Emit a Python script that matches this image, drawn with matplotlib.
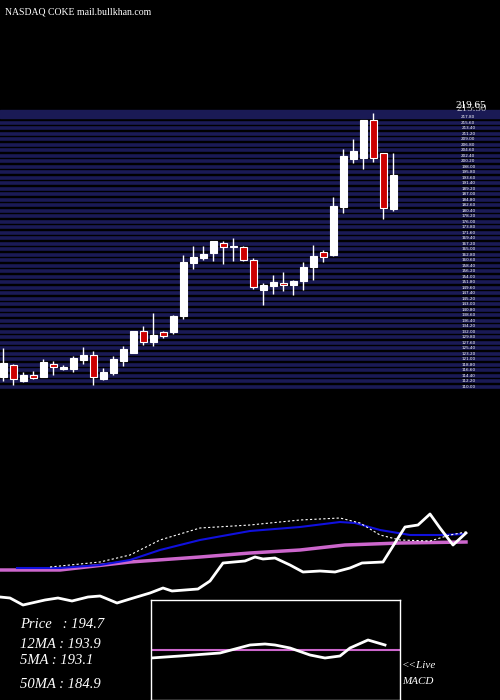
import matplotlib
matplotlib.use("Agg")
import matplotlib.pyplot as plt
import numpy as np

opens  = [114.1,118.6,112.5,114.6,113.8,119.0,117.0,117.3,120.7,122.6,113.3,115.7,120.5,123.7,132.2,128.1,131.8,132.1,138.3,159.6,
          161.6,163.4,167.4,165.8,165.8,160.6,148.7,150.3,151.4,150.7,152.4,158.0,163.8,162.7,182.0,201.2,201.6,216.6,203.4,181.2]
closes = [119.4,113.0,114.7,113.4,119.9,117.8,117.9,121.5,122.6,113.8,115.8,121.0,125.0,132.3,128.1,130.6,130.5,138.2,159.9,161.8,
          163.1,168.2,165.8,166.2,160.6,150.1,150.6,151.9,150.6,152.3,157.8,162.3,162.0,182.3,202.3,204.3,216.7,201.4,181.4,194.6]
highs  = [125.4,119.1,115.8,116.3,121.0,120.1,118.5,122.1,125.9,124.2,117.4,122.3,126.3,132.3,134.2,139.4,132.1,138.7,162.7,166.3,
          166.3,168.2,168.3,169.4,166.3,161.4,151.4,154.7,155.9,152.7,159.8,166.7,164.7,185.9,205.0,209.0,216.7,219.6,203.4,203.4]
lows   = [112.1,110.7,111.9,113.0,113.8,114.7,116.7,115.7,119.1,110.7,112.5,114.5,118.3,123.7,126.7,126.3,129.5,131.1,137.1,157.1,
          160.7,160.4,159.1,160.4,160.3,149.1,142.7,147.1,148.4,146.7,148.7,152.7,159.9,162.3,179.6,199.6,197.2,200.0,177.2,180.4]

# indicator panel (panel units, larger = lower)
ind_x      = [0,10,23,45,58,72,88,100,105,117,130,150,163,172,185,198,210,223,245,255,263,275,290,303,320,335,350,362,383,405,418,430,440,453,466]
price_line = [597,598,605,600,598,601,597,596,598,603,599,593,588,591,590,589,581,563,561,557,559,558,565,572,571,572,568,563,562,527,525,514,528,545,533]
ma50_x = [0,60,130,200,250,300,345,400,466]
ma50_y = [570,570,562,557,553,550,545,543,542]
ma12_x = [17,60,100,130,160,200,250,300,340,355,380,410,440,465]
ma12_y = [568,568,565,560,550,540,531,527,522,523,530,535,535,534]
ma5_x = [50,100,130,160,200,250,300,340,360,380,400,430,450,466]
ma5_y = [567,562,555,540,528,525,520,518,523,535,540,541,535,532]
macd_x = [151,180,220,250,265,275,290,310,325,340,350,368,385]
macd_y = [658,656,653,645,644,645,648,655,658,656,648,640,645]
macd_signal = 650

labels = ["Price   : 194.7", "12MA : 193.9", "5MA : 193.1", "50MA : 184.9"]

fig = plt.figure(figsize=(5, 7), dpi=100, facecolor="black")
H = 700.0

def ax_at(x0, y0, x1, y1):
    return fig.add_axes([x0/500, 1 - y1/H, (x1-x0)/500, (y1-y0)/H])

# main candle axes
ax = ax_at(0, 90, 500, 390)
ax.set_facecolor("black")
ax.set_xlim(-0.33, 49.67)
ax.set_ylim(108.7, 228.7)
levels = np.arange(110.0, 220.0, 2.2)
for lv in levels:
    ax.axhline(lv, color="#1a1a55", lw=2.6, zorder=0)
ax.axhspan(217.6, 220.6, color="#1a1a55", zorder=0)
for i, (o, c, h, l) in enumerate(zip(opens, closes, highs, lows)):
    up = c >= o
    ax.vlines(i, l, h, color="white", lw=1, zorder=2)
    ax.bar(i, abs(c - o) if abs(c-o) > 0.4 else 0.4, bottom=min(o, c), width=0.66,
           color="white" if up else "#cc0000", edgecolor="white", lw=0.8, zorder=3)
for lv in levels:
    ax.text(46.5, lv, "%.2f" % lv, color="white", fontsize=3, va="center", ha="center", family="DejaVu Sans")
ax.text(46.8, 222.5, "219.65", color="white", fontsize=8, ha="center", va="center", family="Liberation Serif")
ax.text(46.8, 221.3, "215.50", color="white", fontsize=8, ha="center", va="center", family="Liberation Serif", alpha=0.7)
ax.axis("off")

fig.text(5/500, 1 - 12/H, "NASDAQ COKE mail.bullkhan.com", color="white", fontsize=7,
         family="Liberation Serif", va="center")

# indicator axes
ia = ax_at(0, 500, 500, 610)
ia.set_xlim(0, 500); ia.set_ylim(610, 500)
ia.axis("off")
ia.plot(ma50_x, ma50_y, color="#cc66cc", lw=2.5)
ia.plot(ma12_x, ma12_y, color="#1010dd", lw=1.5)
ia.plot(ma5_x, ma5_y, color="white", lw=0.8, ls=(0, (2, 2)))
ia.plot(ind_x, price_line, color="white", lw=2)

# MACD box
ma = ax_at(151, 600, 400, 700)
ma.set_facecolor("black")
ma.set_xlim(151, 400); ma.set_ylim(700, 600)
ma.set_xticks([]); ma.set_yticks([])
for s in ma.spines.values():
    s.set_color("white"); s.set_linewidth(1)
ma.axhline(macd_signal, color="#cc66cc", lw=1.5)
ma.plot(macd_x, macd_y, color="white", lw=2)

fig.text(402/500, 1 - 666/H, "<<Live", color="white", fontsize=8, style="italic", family="Liberation Serif", va="center")
fig.text(402/500, 1 - 681/H, "MACD", color="white", fontsize=8, style="italic", family="Liberation Serif", va="center")

ys = [625, 644, 660, 684]
for t, y in zip(labels, ys):
    fig.text(20/500, 1 - y/H, t, color="white", fontsize=10.5, style="italic", family="Liberation Serif", va="center")

fig.savefig("out.png", dpi=100, facecolor="black")
